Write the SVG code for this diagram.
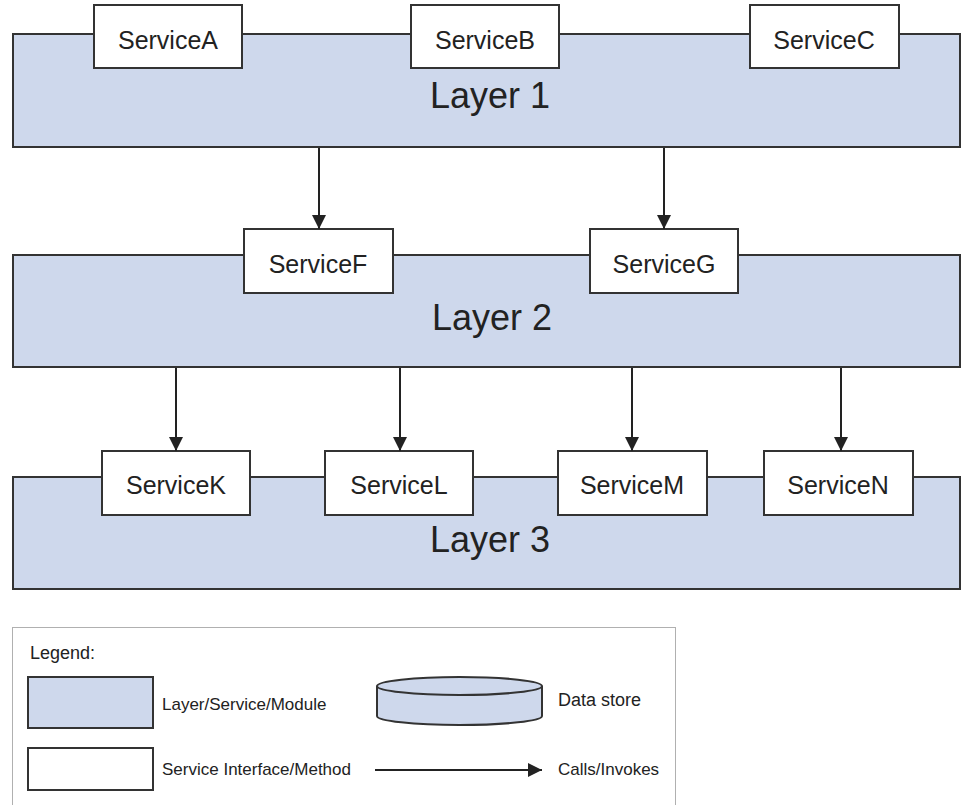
<svg xmlns="http://www.w3.org/2000/svg" width="961" height="805" viewBox="0 0 961 805">
<defs>
<style>
.layer{fill:#ced8ec;stroke:#333;stroke-width:2}
.svc{fill:#fff;stroke:#333;stroke-width:2}
.lt{font-family:"Liberation Sans",Arial,sans-serif;font-size:36px;fill:#222;text-anchor:middle}
.st{font-family:"Liberation Sans",Arial,sans-serif;font-size:25px;fill:#222;text-anchor:middle}
.gt{font-family:"Liberation Sans",Arial,sans-serif;font-size:17px;fill:#222}
.conn{stroke:#222;stroke-width:2;fill:none;marker-end:url(#ah)}
</style>
<marker id="ah" markerUnits="userSpaceOnUse" markerWidth="14" markerHeight="16" refX="14" refY="7" orient="auto">
<path d="M0,0 L14,7 L0,14 z" fill="#222"/>
</marker>
</defs>
<rect width="961" height="805" fill="#fff"/>

<g id="layer1">
<rect class="layer" x="13" y="34" width="947" height="113"/>
<text class="lt" x="490" y="108">Layer 1</text>
</g>
<g id="serviceA"><rect class="svc" x="94" y="5" width="148" height="63"/><text class="st" x="168" y="49">ServiceA</text></g>
<g id="serviceB"><rect class="svc" x="411" y="5" width="148" height="63"/><text class="st" x="485" y="49">ServiceB</text></g>
<g id="serviceC"><rect class="svc" x="750" y="5" width="149" height="63"/><text class="st" x="824" y="49">ServiceC</text></g>

<g id="layer2">
<rect class="layer" x="13" y="255" width="947" height="112"/>
<text class="lt" x="492" y="330">Layer 2</text>
</g>
<g id="serviceF"><rect class="svc" x="244" y="229" width="149" height="64"/><text class="st" x="318" y="273">ServiceF</text></g>
<g id="serviceG"><rect class="svc" x="590" y="229" width="148" height="64"/><text class="st" x="664" y="273">ServiceG</text></g>

<g id="layer3">
<rect class="layer" x="13" y="477" width="947" height="112"/>
<text class="lt" x="490" y="552">Layer 3</text>
</g>
<g id="serviceK"><rect class="svc" x="102" y="451" width="148" height="64"/><text class="st" x="176" y="494">ServiceK</text></g>
<g id="serviceL"><rect class="svc" x="325" y="451" width="148" height="64"/><text class="st" x="399" y="494">ServiceL</text></g>
<g id="serviceM"><rect class="svc" x="558" y="451" width="149" height="64"/><text class="st" x="632" y="494">ServiceM</text></g>
<g id="serviceN"><rect class="svc" x="764" y="451" width="149" height="64"/><text class="st" x="838" y="494">ServiceN</text></g>

<g id="connectors">
<line class="conn" x1="319" y1="148" x2="319" y2="229"/>
<line class="conn" x1="664" y1="148" x2="664" y2="229"/>
<line class="conn" x1="176" y1="368" x2="176" y2="451"/>
<line class="conn" x1="400" y1="368" x2="400" y2="451"/>
<line class="conn" x1="632" y1="368" x2="632" y2="451"/>
<line class="conn" x1="841" y1="368" x2="841" y2="451"/>
</g>

<g id="legend">
<rect x="12.5" y="627.5" width="663" height="190" fill="#fff" stroke="#b0b0b0" stroke-width="1"/>
<text class="gt" x="30" y="659" style="font-size:18px">Legend:</text>
<rect class="layer" x="28" y="677" width="125" height="51"/>
<text class="gt" x="162" y="710">Layer/Service/Module</text>
<path d="M377,686 L377,716 A82.5,9 0 0 0 542,716 L542,686" class="layer"/>
<ellipse cx="459.5" cy="686" rx="82.5" ry="9" class="layer"/>
<text class="gt" x="558" y="706" style="font-size:18px">Data store</text>
<rect class="svc" x="28" y="748" width="125" height="42"/>
<text class="gt" x="162" y="775">Service Interface/Method</text>
<line class="conn" x1="375" y1="770" x2="542" y2="770"/>
<text class="gt" x="558" y="775">Calls/Invokes</text>
</g>
</svg>
